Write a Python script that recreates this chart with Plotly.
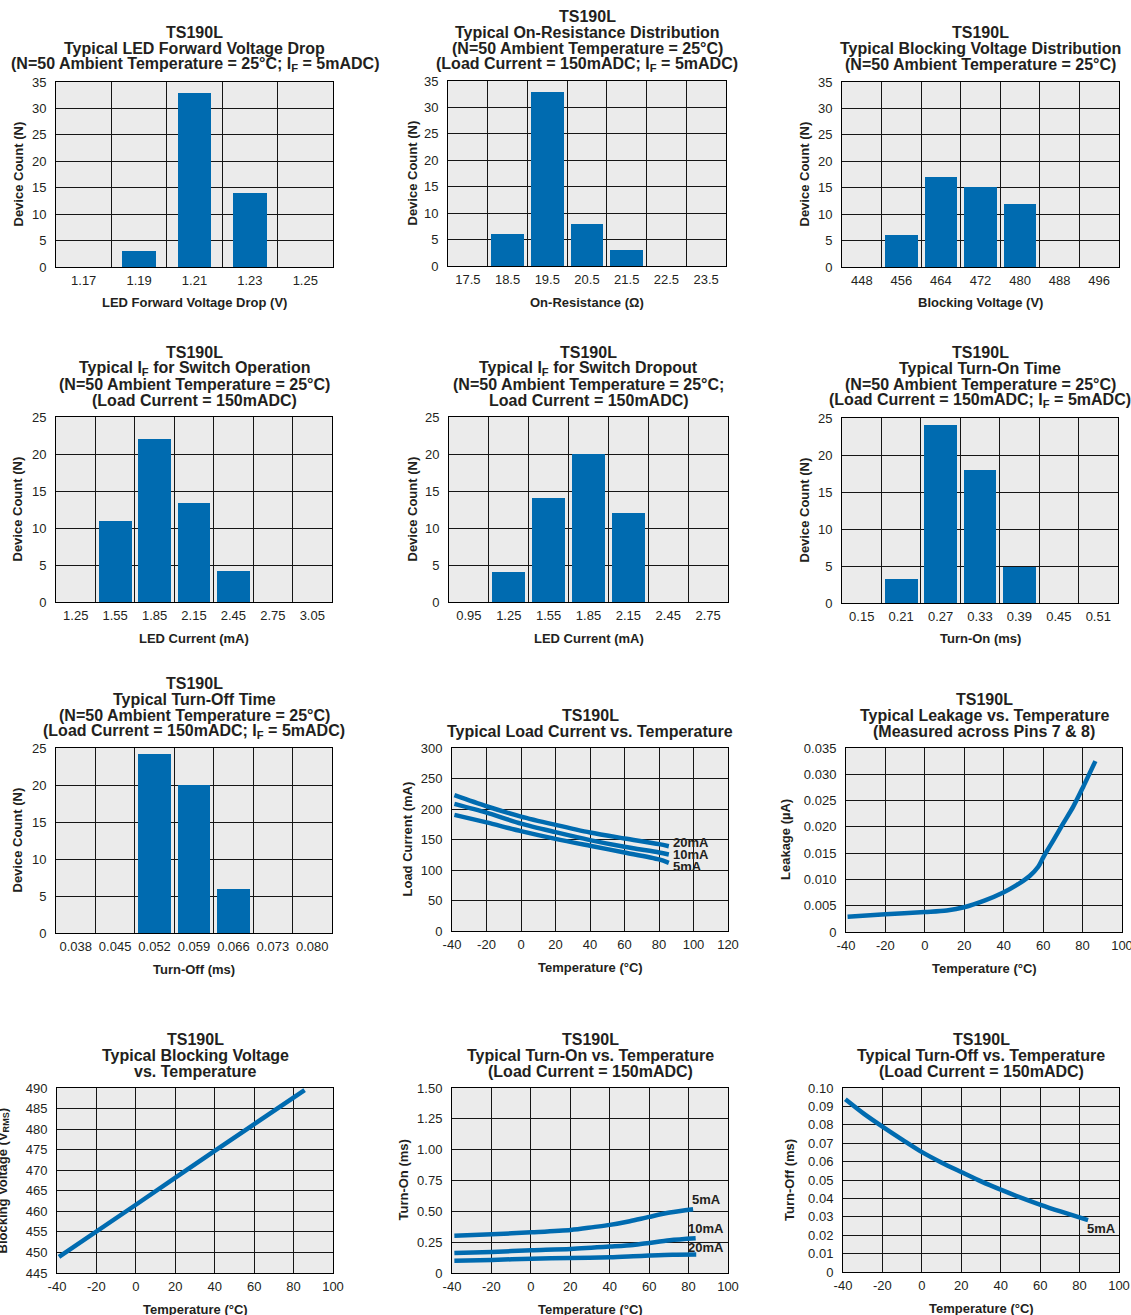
import plotly.graph_objects as go

W, H = 1131, 1315
FONT = "Liberation Sans, Arial, Helvetica, sans-serif"
BLUE = "#006BB0"
GRID = "#151515"
BG = "#ebebeb"
TXT = "#231f20"

# ---------------- data ----------------
led_vf_bins = ["1.17", "1.19", "1.21", "1.23", "1.25"]
led_vf_count = [0, 3, 33, 14, 0]

ron_bins = ["17.5", "18.5", "19.5", "20.5", "21.5", "22.5", "23.5"]
ron_count = [0, 6, 33, 8, 3, 0, 0]

bv_bins = ["448", "456", "464", "472", "480", "488", "496"]
bv_count = [0, 6, 17, 15.2, 12, 0, 0]

if_on_bins = ["1.25", "1.55", "1.85", "2.15", "2.45", "2.75", "3.05"]
if_on_count = [0, 11, 22, 13.4, 4.2, 0, 0]

if_off_bins = ["0.95", "1.25", "1.55", "1.85", "2.15", "2.45", "2.75"]
if_off_count = [0, 4, 14.1, 20, 12, 0, 0]

ton_bins = ["0.15", "0.21", "0.27", "0.33", "0.39", "0.45", "0.51"]
ton_count = [0, 3.2, 24, 18, 4.8, 0, 0]

toff_bins = ["0.038", "0.045", "0.052", "0.059", "0.066", "0.073", "0.080"]
toff_count = [0, 0, 24.2, 20, 5.9, 0, 0]

load_temp = [-38.6, -20, 0, 20, 40, 60, 80, 85.7]
load_20ma = [222.6, 204.5, 187.6, 174, 161.5, 151.7, 142.4, 139]
load_10ma = [208.4, 194, 176, 162, 149, 138, 128.7, 125.5]
load_5ma = [190.4, 178, 163.7, 151, 139.7, 128.7, 117.3, 111.8]

leak_temp = [-39.2, -20, 0, 11.1, 19.9, 30.5, 39.8, 46.5, 53.3, 57.5, 60.2, 65.1, 70.1, 75.2, 80.3, 86.5]
leak_ua = [0.0029, 0.00336, 0.0038, 0.0041, 0.0047, 0.0060, 0.0075, 0.0089, 0.0107, 0.0124,
           0.0143, 0.0174, 0.0206, 0.0238, 0.0276, 0.0325]

bvt_temp = [-39, 0, 40, 85.6]
bvt_volt = [448.9, 461.6, 474.7, 489.5]

ton_temp5 = [-38.8, -19.8, 0.3, 20.2, 31.7, 40.1, 50.2, 60, 70.5, 82.3]
ton_5ma = [0.303, 0.314, 0.330, 0.349, 0.372, 0.39, 0.42, 0.455, 0.490, 0.517]
ton_temp10 = [-38.8, -19.8, 0.3, 20.2, 40.1, 51.9, 60, 70.5, 83.6]
ton_10ma = [0.162, 0.171, 0.184, 0.195, 0.214, 0.227, 0.244, 0.266, 0.282]
ton_temp20 = [-38.8, -19.8, 0.3, 20.2, 40.1, 51.9, 60, 71.8, 83.9]
ton_20ma = [0.100, 0.106, 0.116, 0.122, 0.127, 0.135, 0.141, 0.148, 0.150]

toff_temp = [-38.8, -29.5, -19.8, -9.6, 0.3, 10.1, 20.2, 30.3, 40.3, 50.2, 60.2, 70.3, 84.3]
toff_5ma = [0.0939, 0.0861, 0.0789, 0.0717, 0.065, 0.0594, 0.0542, 0.0491, 0.0446, 0.0404,
            0.0365, 0.0329, 0.0282]

temp_ticks_120 = [-40, -20, 0, 20, 40, 60, 80, 100, 120]
temp_ticktext_120 = ["-40", "-20", "0", "20", "40", "60", "80", "100", "120"]
temp_ticks_100 = [-40, -20, 0, 20, 40, 60, 80, 100]
temp_ticktext_100 = ["-40", "-20", "0", "20", "40", "60", "80", "100"]
leak_ticks = [0, 0.005, 0.010, 0.015, 0.020, 0.025, 0.030, 0.035]
leak_ticktext = ["0", "0.005", "0.010", "0.015", "0.020", "0.025", "0.030", "0.035"]
ton_ticks = [0, 0.25, 0.5, 0.75, 1.0, 1.25, 1.5]
ton_ticktext = ["0", "0.25", "0.50", "0.75", "1.00", "1.25", "1.50"]
toff_ticks = [0, 0.01, 0.02, 0.03, 0.04, 0.05, 0.06, 0.07, 0.08, 0.09, 0.10]
toff_ticktext = ["0", "0.01", "0.02", "0.03", "0.04", "0.05", "0.06", "0.07", "0.08", "0.09", "0.10"]

# ---------------- layout helpers ----------------
# panel pixel boxes: left, right, top, bottom
boxes = [
    (56, 333, 82, 267), (448, 726, 81, 266), (842, 1119, 82, 267),
    (56, 332, 417, 602), (449, 728, 417, 602), (842, 1118, 418, 603),
    (56, 332, 748, 933), (452, 728, 748, 931), (846, 1122, 748, 932),
    (57, 333, 1088, 1273), (452, 728, 1088, 1273), (843, 1119, 1088, 1272),
]

titles = [
    ["TS190L", "Typical LED Forward Voltage Drop",
     "(N=50 Ambient Temperature = 25°C; I<sub>F</sub> = 5mADC)"],
    ["TS190L", "Typical On-Resistance Distribution", "(N=50 Ambient Temperature = 25°C)",
     "(Load Current = 150mADC; I<sub>F</sub> = 5mADC)"],
    ["TS190L", "Typical Blocking Voltage Distribution", "(N=50 Ambient Temperature = 25°C)"],
    ["TS190L", "Typical I<sub>F</sub> for Switch Operation", "(N=50 Ambient Temperature = 25°C)",
     "(Load Current = 150mADC)"],
    ["TS190L", "Typical I<sub>F</sub> for Switch Dropout", "(N=50 Ambient Temperature = 25°C;",
     "Load Current = 150mADC)"],
    ["TS190L", "Typical Turn-On Time", "(N=50 Ambient Temperature = 25°C)",
     "(Load Current = 150mADC; I<sub>F</sub> = 5mADC)"],
    ["TS190L", "Typical Turn-Off Time", "(N=50 Ambient Temperature = 25°C)",
     "(Load Current = 150mADC; I<sub>F</sub> = 5mADC)"],
    ["TS190L", "Typical Load Current vs. Temperature"],
    ["TS190L", "Typical Leakage vs. Temperature", "(Measured across Pins 7 & 8)"],
    ["TS190L", "Typical Blocking Voltage", "vs. Temperature"],
    ["TS190L", "Typical Turn-On vs. Temperature", "(Load Current = 150mADC)"],
    ["TS190L", "Typical Turn-Off vs. Temperature", "(Load Current = 150mADC)"],
]

xtitles = ["LED Forward Voltage Drop (V)", "On-Resistance (Ω)", "Blocking Voltage (V)",
           "LED Current (mA)", "LED Current (mA)", "Turn-On (ms)", "Turn-Off (ms)",
           "Temperature (°C)", "Temperature (°C)", "Temperature (°C)", "Temperature (°C)",
           "Temperature (°C)"]
ytitles = ["Device Count (N)"] * 7 + ["Load Current (mA)", "Leakage (µA)",
                                        "Blocking Voltage (V<sub>RMS</sub>)", "Turn-On (ms)",
                                        "Turn-Off (ms)"]
ytitle_off = [38, 36, 38, 39, 37, 38, 39, 45, 61, 54, 49, 54]

fig = go.Figure()
layout = dict(width=W, height=H, margin=dict(l=0, r=0, t=0, b=0, pad=0, autoexpand=False),
              autosize=False, paper_bgcolor="white", plot_bgcolor=BG, showlegend=False,
              font=dict(family=FONT, size=13, color=TXT), bargap=0)
annotations = []


def ax_names(i):
    n = "" if i == 0 else str(i + 1)
    return "x" + n, "y" + n, "xaxis" + n, "yaxis" + n


common = dict(showline=True, linecolor="black", linewidth=1, mirror=True,
              showgrid=True, gridcolor=GRID, gridwidth=1.2, zeroline=False, automargin=False,
              ticks="", tickfont=dict(family=FONT, size=13, color=TXT), fixedrange=True,
              ticklabeloverflow="allow")


def domains(i):
    L, R, T, B = boxes[i]
    return [L / W, R / W], [1 - B / H, 1 - T / H]


bar_panels = [
    (led_vf_bins, led_vf_count, 35, 0.6),
    (ron_bins, ron_count, 35, 0.83),
    (bv_bins, bv_count, 35, 0.83),
    (if_on_bins, if_on_count, 25, 0.83),
    (if_off_bins, if_off_count, 25, 0.83),
    (ton_bins, ton_count, 25, 0.83),
    (toff_bins, toff_count, 25, 0.83),
]

for i, (bins, counts, ymax, bw) in enumerate(bar_panels):
    xn, yn, xa, ya = ax_names(i)
    xd, yd = domains(i)
    fig.add_trace(go.Bar(x=bins, y=counts, xaxis=xn, yaxis=yn, marker_color=BLUE,
                         marker_line_width=0, width=bw))
    layout[xa] = dict(common, domain=xd, anchor=yn, type="category", tickson="boundaries",
                      range=[-0.5, len(bins) - 0.5], ticklabelstandoff=1, tickangle=0)
    layout[ya] = dict(common, domain=yd, anchor=xn, range=[0, ymax], dtick=5,
                      ticklabelstandoff=6)


def line_trace(i, x, y):
    xn, yn, _, _ = ax_names(i)
    fig.add_trace(go.Scatter(x=x, y=y, xaxis=xn, yaxis=yn, mode="lines",
                             line=dict(color=BLUE, width=4.5, shape="spline", smoothing=0.8)))


def curve_label(i, x, y, text):
    xn, yn, _, _ = ax_names(i)
    annotations.append(dict(x=x, y=y, xref=xn, yref=yn, text="<b>%s</b>" % text, showarrow=False,
                            xanchor="left", yanchor="middle",
                            font=dict(family=FONT, size=13, color=TXT)))


# panel 8: load current
line_trace(7, load_temp, load_20ma)
line_trace(7, load_temp, load_10ma)
line_trace(7, load_temp, load_5ma)
curve_label(7, 87, 145, "20mA")
curve_label(7, 87, 125.5, "10mA")
curve_label(7, 87, 106, "5mA")
# panel 9: leakage
line_trace(8, leak_temp, leak_ua)
# panel 10: blocking voltage
line_trace(9, bvt_temp, bvt_volt)
# panel 11: turn-on
line_trace(10, ton_temp5, ton_5ma)
line_trace(10, ton_temp10, ton_10ma)
line_trace(10, ton_temp20, ton_20ma)
curve_label(10, 80.5, 0.598, "5mA")
curve_label(10, 78.5, 0.357, "10mA")
curve_label(10, 78.5, 0.206, "20mA")
# panel 12: turn-off
line_trace(11, toff_temp, toff_5ma)
curve_label(11, 83, 0.0235, "5mA")

line_axes = {
    7: (temp_ticks_120, temp_ticktext_120, [-40, 120], dict(range=[0, 300], dtick=50)),
    8: (temp_ticks_100, temp_ticktext_100, [-40, 100],
        dict(range=[0, 0.035], tickvals=leak_ticks, ticktext=leak_ticktext)),
    9: (temp_ticks_100, temp_ticktext_100, [-40, 100], dict(range=[445, 490], dtick=5)),
    10: (temp_ticks_100, temp_ticktext_100, [-40, 100],
         dict(range=[0, 1.5], tickvals=ton_ticks, ticktext=ton_ticktext)),
    11: (temp_ticks_100, temp_ticktext_100, [-40, 100],
         dict(range=[0, 0.10], tickvals=toff_ticks, ticktext=toff_ticktext)),
}
for i, (xt, xtt, xr, yopts) in line_axes.items():
    xn, yn, xa, ya = ax_names(i)
    xd, yd = domains(i)
    layout[xa] = dict(common, domain=xd, anchor=yn, range=xr, tickvals=xt, ticktext=xtt,
                      ticklabelstandoff=1, tickangle=0)
    layout[ya] = dict(common, domain=yd, anchor=xn, ticklabelstandoff=6, **yopts)

# titles and axis titles
for i in range(12):
    xn, yn, _, _ = ax_names(i)
    lines = titles[i]
    n = len(lines)
    for k, t in enumerate(lines):
        annotations.append(dict(x=0.5, y=1, xref=xn + " domain", yref=yn + " domain",
                                text="<b>%s</b>" % t, showarrow=False, xanchor="center",
                                yanchor="middle", yshift=17 + (n - 1 - k) * 16,
                                font=dict(family=FONT, size=16, color=TXT)))
    annotations.append(dict(x=0.5, y=0, xref=xn + " domain", yref=yn + " domain",
                            text="<b>%s</b>" % xtitles[i], showarrow=False, xanchor="center",
                            yanchor="middle", yshift=-36,
                            font=dict(family=FONT, size=13, color=TXT)))
    annotations.append(dict(x=0, y=0.5, xref=xn + " domain", yref=yn + " domain",
                            text="<b>%s</b>" % ytitles[i], showarrow=False, xanchor="center",
                            yanchor="middle", xshift=-ytitle_off[i], textangle=-90,
                            font=dict(family=FONT, size=13, color=TXT)))

layout["annotations"] = annotations
fig.update_layout(**layout)
fig.write_html("out.html", config={"displayModeBar": False},
               post_script="document.body.style.margin='0';")
